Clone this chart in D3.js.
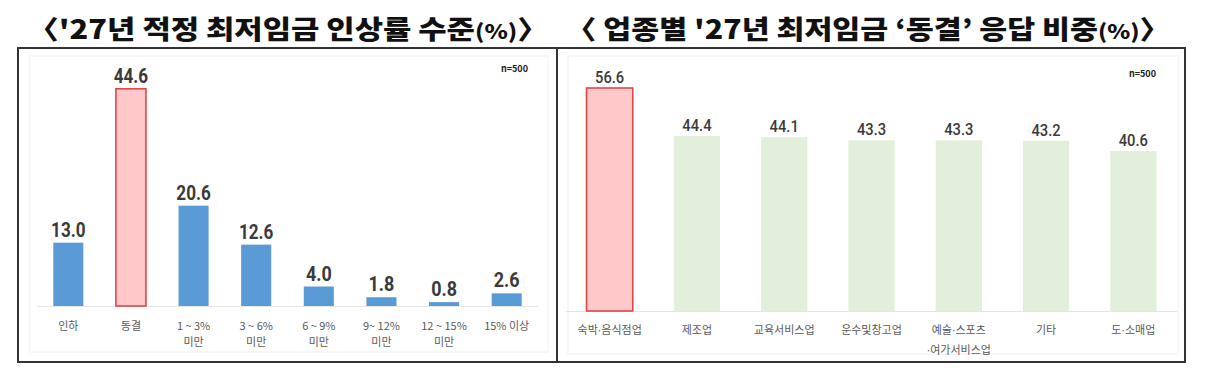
<!DOCTYPE html>
<html>
<head>
  <meta http-equiv="Content-Type" content="text/html;charset=utf-8" />
  <title>최저임금 인상률</title>
  <style>
    body { margin: 0; background: #fff; }
    text { font-family: "Noto Sans CJK KR", sans-serif; }
    .val { font-family: Roboto, "Liberation Sans", sans-serif; fill: #3a3a3a; }
    .cat { font-size: 11px; fill: #5a5a5a; }
    .dot { font-family: "DejaVu Sans", sans-serif; }
    .title { font-weight: 900; fill: #111; }
  </style>
</head>
<body>
<div id="chart"></div>
<script src="https://d3js.org/d3.v7.min.js"></script>
<script>
var W = 1207, H = 379;

// left chart: 인상률 수준
var leftCats = [["인하"], ["동결"], ["1 ~ 3%", "미만"], ["3 ~ 6%", "미만"], ["6 ~ 9%", "미만"], ["9~ 12%", "미만"], ["12 ~ 15%", "미만"], ["15% 이상"]];
var leftVals = [13.0, 44.6, 20.6, 12.6, 4.0, 1.8, 0.8, 2.6];
var leftHi = 1; // 동결 highlighted

// right chart: 업종별 동결 응답 비중
var rightCats = [["숙박·음식점업"], ["제조업"], ["교육서비스업"], ["운수및창고업"], ["예술·스포츠", "·여가서비스업"], ["기타"], ["도·소매업"]];
var rightVals = [56.6, 44.4, 44.1, 43.3, 43.3, 43.2, 40.6];
var rightHi = 0;

var svg = d3.select("#chart").append("svg")
  .attr("width", W)
  .attr("height", H);

// titles
var t1 = svg.append("text").attr("class", "title")
  .attr("x", 28).attr("y", 39)
  .attr("font-size", 26)
  .attr("textLength", 520).attr("lengthAdjust", "spacingAndGlyphs");
t1.append("tspan").text("〈'27년 적정 최저임금 인상률 수준");
t1.append("tspan").attr("font-size", 20).text("(%)");
t1.append("tspan").text("〉");

var t2 = svg.append("text").attr("class", "title")
  .attr("x", 566).attr("y", 39)
  .attr("font-size", 26)
  .attr("textLength", 604).attr("lengthAdjust", "spacingAndGlyphs");
t2.append("tspan").text("〈 업종별 '27년 최저임금 ‘동결’ 응답 비중");
t2.append("tspan").attr("font-size", 20).text("(%)");
t2.append("tspan").text("〉");

// outer frame
svg.append("rect")
  .attr("x", 18).attr("y", 48)
  .attr("width", 1167).attr("height", 314)
  .attr("fill", "none").attr("stroke", "#333").attr("stroke-width", 2);
svg.append("line")
  .attr("x1", 557).attr("x2", 557).attr("y1", 48).attr("y2", 362)
  .attr("stroke", "#333").attr("stroke-width", 2);

// write a label line, keeping the middle dot narrow
function addLine(sel, s) {
  s.split("·").forEach(function(part, k) {
    if (k > 0) sel.append("tspan").attr("class", "dot").text("·");
    if (part) sel.append("tspan").text(part);
  });
}

function drawPanel(cfg) {
  var g = svg.append("g");

  // faint inner plot border
  g.append("rect")
    .attr("x", cfg.box[0]).attr("y", cfg.box[1])
    .attr("width", cfg.box[2]).attr("height", cfg.box[3])
    .attr("fill", "none").attr("stroke", "#f0f0f0");

  var x = d3.scaleBand()
    .domain(d3.range(cfg.vals.length))
    .range(cfg.xr)
    .paddingInner(cfg.pad)
    .paddingOuter(cfg.pad / 2);

  var y = d3.scaleLinear()
    .domain([0, cfg.ymax])
    .range([cfg.base, cfg.top]);

  // baseline
  g.append("line")
    .attr("x1", cfg.xr[0]).attr("x2", cfg.xr[1])
    .attr("y1", cfg.base + 0.5).attr("y2", cfg.base + 0.5)
    .attr("stroke", "#e6e6e6");

  g.selectAll("rect.bar")
    .data(cfg.vals)
    .enter()
    .append("rect")
    .attr("class", "bar")
    .attr("x", function(d, i) { return x(i); })
    .attr("y", function(d) { return y(d); })
    .attr("width", x.bandwidth())
    .attr("height", function(d) { return cfg.base - y(d); })
    .attr("fill", function(d, i) { return i == cfg.hi ? "#ffc9c9" : cfg.color; })
    .attr("stroke", function(d, i) { return i == cfg.hi ? "#e04848" : "none"; })
    .attr("stroke-width", 1.6);

  // value labels, squeezed to look condensed
  g.selectAll("text.val")
    .data(cfg.vals)
    .enter()
    .append("text")
    .attr("class", "val")
    .attr("x", function(d, i) { return x(i) + x.bandwidth() / 2; })
    .attr("y", function(d) { return y(d) - cfg.gap; })
    .attr("text-anchor", "middle")
    .attr("font-size", cfg.vfs)
    .attr("font-weight", cfg.vfw)
    .attr("textLength", function(d) { return d.toFixed(1).length * cfg.vcw; })
    .attr("lengthAdjust", "spacingAndGlyphs")
    .text(function(d) { return d.toFixed(1); });

  g.selectAll("text.cat")
    .data(cfg.cats)
    .enter()
    .append("text")
    .attr("class", "cat")
    .attr("text-anchor", "middle")
    .attr("x", function(d, i) { return x(i) + x.bandwidth() / 2; })
    .attr("y", cfg.labY)
    .each(function(d) {
      var el = d3.select(this), cx = el.attr("x");
      d.forEach(function(line, j) {
        var ln = el.append("tspan").attr("x", cx).attr("dy", j == 0 ? 0 : cfg.lineH);
        addLine(ln, line);
      });
    });

  g.append("text")
    .attr("x", cfg.nx).attr("y", cfg.ny)
    .attr("text-anchor", "end")
    .attr("font-size", 9)
    .attr("font-weight", "bold")
    .attr("fill", "#222")
    .text("n=500");
}

drawPanel({
  vals: leftVals, cats: leftCats, hi: leftHi, color: "#5b9bd5",
  xr: [37, 538], pad: 0.52, ymax: 50, base: 306, top: 306 - 50 * 4.87,
  gap: 6, vfs: 20, vfw: "bold", vcw: 8.6, labY: 330, lineH: 16, nx: 528, ny: 72,
  box: [30, 56, 518, 296]
});

drawPanel({
  vals: rightVals, cats: rightCats, hi: rightHi, color: "#e2efda",
  xr: [566, 1177], pad: 0.47, ymax: 60, base: 311, top: 311 - 60 * 3.94,
  gap: 5, vfs: 17, vfw: 500, vcw: 7.3, labY: 334, lineH: 20, nx: 1156, ny: 77,
  box: [568, 56, 610, 298]
});
</script>
</body>
</html>
